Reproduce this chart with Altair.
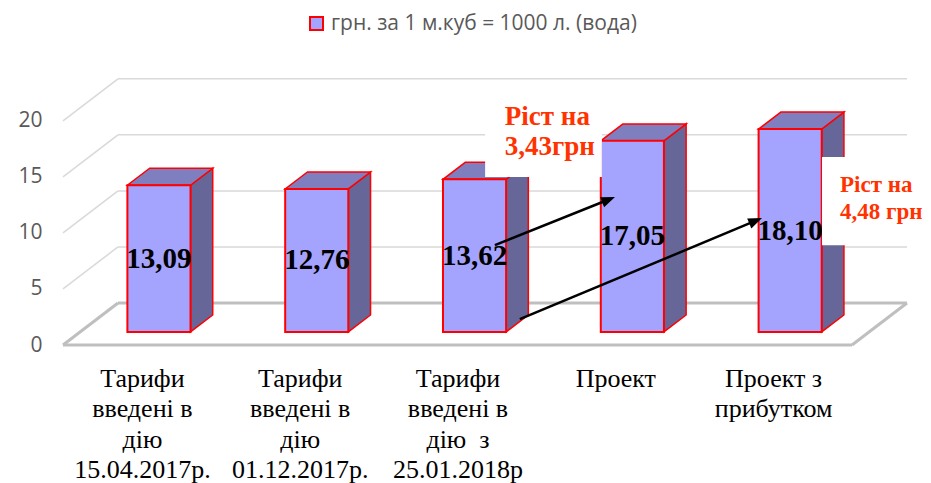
import json
import math
import altair as alt
import pandas as pd

# ---------------- data ----------------
categories = [
    ["Тарифи", "введені в", "дію", "15.04.2017р."],
    ["Тарифи", "введені в", "дію", "01.12.2017р."],
    ["Тарифи", "введені в", "дію \u00a0з", "25.01.2018р"],
    ["Проект"],
    ["Проект з", "прибутком"],
]
values = [13.09, 12.76, 13.62, 17.05, 18.10]
series_name = "грн. за 1 м.куб = 1000 л. (вода)"
y_ticks = [0, 5, 10, 15, 20]

note_texts = ["Ріст на\n3,43грн", "Ріст на\n4,48 грн"]
note_x = [2.80, 4.924]         # left edge of the note text (category units)
note_y = [19.6, 13.65]         # first baseline (value units)
note_line_h = [30, 27]
note_size = [27, 23]
box_x0 = [2.675, 4.81]
box_x1 = [3.415, 5.60]
box_y0 = [14.98, 8.91]
box_y1 = [22.3, 16.77]

arrow_x0 = [2.737, 2.895]
arrow_y0 = [8.91, 2.30]
arrow_x1 = [3.498, 4.43]
arrow_y1 = [13.20, 11.32]

# ---------------- 3D projection constants ----------------
N = len(values)
PX_X = 157.8   # px per category unit
PX_Y = 11.2    # px per value unit
DX = 55 / PX_X  # depth offset along x (category units) for full floor depth
DY = 42 / PX_Y  # depth offset along y (value units) for full floor depth
T0, T1 = 0.31, 0.714   # bar front / back depth fraction
HALF = 0.2   # half width of bar front face
YMAX = 24
W = round((N + DX) * PX_X)
H = round(YMAX * PX_Y)

FRONT = "#A4A4FF"
TOP = "#7F7FC0"
SIDE = "#666699"
EDGE = "#FF0000"
GRID = "#D9D9D9"
FLOOR = "#BFBFBF"

xs = alt.Scale(domain=[0, N + DX], nice=False, zero=False)
ys = alt.Scale(domain=[0, YMAX], nice=False, zero=False)

label_expr = json.dumps(categories, ensure_ascii=False) + "[floor(datum.value)]"
AX = alt.Axis(
    values=[i + 0.5 for i in range(N)], labelExpr=label_expr, title=None,
    ticks=False, domain=False, grid=False, labelAngle=0,
    labelFont="Liberation Serif", labelFontSize=26, labelColor="#000000",
    labelBaseline="alphabetic", labelPadding=41, labelLineHeight=30.5,
    labelOverlap=False, labelFlush=False)
AY = alt.Axis(
    values=y_ticks, title=None, ticks=False, domain=False, grid=False,
    labelFont="Open Sans", labelFontSize=21, labelColor="#595959",
    labelPadding=21)


def X(f):
    return alt.X(f, scale=xs, axis=AX)


def Y(f):
    return alt.Y(f, scale=ys, axis=AY)


# bar faces
front_rows, top_rows, side_rows = [], [], []
for i, v in enumerate(values):
    cx = i + 0.5 + T0 * DX
    l0, r0 = cx - HALF, cx + HALF
    sx = (T1 - T0) * DX
    yb0, yb1 = T0 * DY, T1 * DY
    front_rows.append(dict(bar=i, x0=l0, x1=r0, y0=yb0, y1=yb0 + v, cx=cx,
                           ym=yb0 + v / 2, label=f"{v:.2f}".replace(".", ","),
                           series=series_name))
    top_rows.append(dict(bar=i, y=yb0 + v, xa=l0, xb=r0))
    top_rows.append(dict(bar=i, y=yb1 + v, xa=l0 + sx, xb=r0 + sx))
    side_rows.append(dict(bar=i, x=r0, ya=yb0, yb=yb0 + v))
    side_rows.append(dict(bar=i, x=r0 + sx, ya=yb1, yb=yb1 + v))
front_df = pd.DataFrame(front_rows)
top_df = pd.DataFrame(top_rows)
side_df = pd.DataFrame(side_rows)

floor_df = pd.DataFrame([
    dict(x=0, y=0, x2=N, y2=0),
    dict(x=N, y=0, x2=N + DX, y2=DY),
    dict(x=DX, y=DY, x2=N + DX, y2=DY),
    dict(x=0, y=0, x2=DX, y2=DY),
])
grid_rows = []
for t in y_ticks[1:]:
    grid_rows.append(dict(x=0, y=t, x2=DX, y2=t + DY))
    grid_rows.append(dict(x=DX, y=t + DY, x2=N + DX, y2=t + DY))
grid_df = pd.DataFrame(grid_rows)

box_df = pd.DataFrame(dict(x0=box_x0, x1=box_x1, y0=box_y0, y1=box_y1))

arrow_rows = []
for a, b, c, d in zip(arrow_x0, arrow_y0, arrow_x1, arrow_y1):
    dxp = (c - a) * PX_X
    dyp = (d - b) * PX_Y
    ang = math.degrees(math.atan2(dxp, dyp))
    L = math.hypot(dxp, dyp)
    k = (L - 8) / L
    arrow_rows.append(dict(x=a, y=b, xe=a + (c - a) * k, ye=b + (d - b) * k,
                           xt=c, yt=d, ang=ang))
arrow_df = pd.DataFrame(arrow_rows)

# ---------------- layers ----------------
floor = alt.Chart(floor_df).mark_rule(color=FLOOR, strokeWidth=3).encode(
    x=X("x:Q"), y=Y("y:Q"), x2="x2:Q", y2="y2:Q",
)

grid = alt.Chart(grid_df).mark_rule(color=GRID, strokeWidth=1.5).encode(
    x=X("x:Q"), y=Y("y:Q"), x2="x2:Q", y2="y2:Q",
)

side = alt.Chart(side_df).mark_area(orient="vertical", color=SIDE, stroke=EDGE,
                                    strokeWidth=1.5, opacity=1).encode(
    x=X("x:Q"), y=Y("ya:Q"), y2="yb:Q", detail="bar:N",
)

top = alt.Chart(top_df).mark_area(orient="horizontal", color=TOP, stroke=EDGE,
                                  strokeWidth=1.5, opacity=1).encode(
    y=Y("y:Q"), x=X("xa:Q"), x2="xb:Q", detail="bar:N",
)

front = alt.Chart(front_df).mark_rect(stroke=EDGE, strokeWidth=2, opacity=1).encode(
    x=X("x0:Q"), x2="x1:Q", y=Y("y0:Q"), y2="y1:Q",
    color=alt.Color("series:N", scale=alt.Scale(range=[FRONT]), legend=alt.Legend(
        title=None, orient="none", legendX=243, legendY=-63, symbolType="square",
        symbolSize=169, symbolStrokeColor=EDGE, symbolStrokeWidth=2,
        symbolFillColor=FRONT, symbolOpacity=1,
        labelFont="Open Sans", labelFontSize=21, labelColor="#595959",
        labelLimit=500, labelOffset=4)),
)

vlabels = alt.Chart(front_df).mark_text(font="Liberation Serif", fontSize=29,
                                        fontWeight="bold", color="black",
                                        baseline="middle", align="center").encode(
    x=X("cx:Q"), y=Y("ym:Q"), text="label:N",
)

boxes = alt.Chart(box_df).mark_rect(color="white", opacity=1).encode(
    x=X("x0:Q"), x2="x1:Q", y=Y("y0:Q"), y2="y1:Q",
)

note_layers = []
for t, x, y, lh, fs in zip(note_texts, note_x, note_y, note_line_h, note_size):
    note_layers.append(
        alt.Chart(pd.DataFrame(dict(t=[t], x=[x], y=[y]))).mark_text(
            font="Liberation Serif", fontSize=fs, fontWeight="bold", color="#FF3300",
            align="left", baseline="alphabetic", lineBreak="\n", lineHeight=lh).encode(
            x=X("x:Q"), y=Y("y:Q"), text="t:N")
    )

arrow_lines = alt.Chart(arrow_df).mark_rule(color="black", strokeWidth=2.5).encode(
    x=X("x:Q"), y=Y("y:Q"), x2="xe:Q", y2="ye:Q",
)
arrow_heads = alt.Chart(arrow_df).mark_point(
    shape="M0,0 L0.62,1.6 L-0.62,1.6 Z", filled=True, color="black", opacity=1,
    size=300, strokeWidth=0).encode(
    x=X("xt:Q"), y=Y("yt:Q"), angle=alt.Angle("ang:Q", scale=None),
)

chart = alt.layer(
    floor, grid, side, top, front, vlabels, boxes, *note_layers, arrow_lines, arrow_heads
).properties(
    width=W, height=H,
    autosize=alt.AutoSizeParams(type="none"),
    padding={"left": 55, "top": 68, "right": 915 - 55 - W, "bottom": 138},
    background="white",
).configure_view(stroke=None)

chart.save("out.html", embed_options={"renderer": "svg", "actions": False})
